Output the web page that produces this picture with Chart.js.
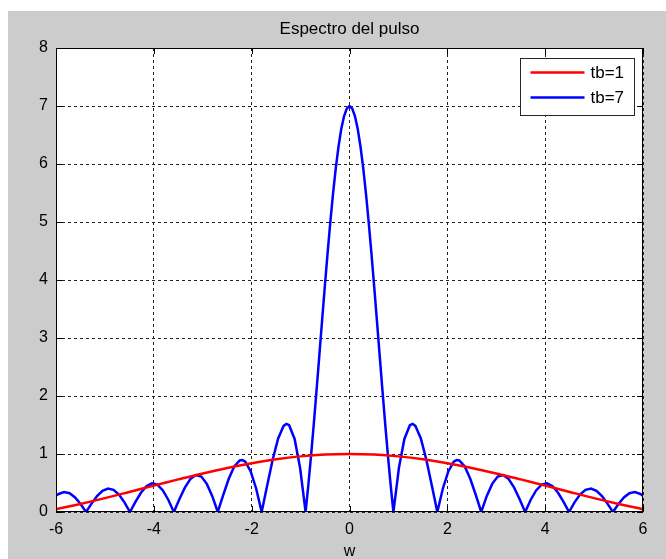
<!DOCTYPE html>
<html>
<head>
<meta charset="utf-8">
<title>Espectro del pulso</title>
<script src="https://cdn.jsdelivr.net/npm/chart.js@4.4.1/dist/chart.umd.min.js"></script>
<style>
  html, body { margin: 0; padding: 0; background: #ffffff; }
  canvas { display: block; }
</style>
</head>
<body>
<canvas id="espectro" width="666" height="559"></canvas>
<script>
// tb = 1 : |X(w)|
const redW = [-6, -5.5, -5, -4.5, -4, -3.5, -3, -2.5, -2, -1.5, -1, -0.5, 0,
              0.5, 1, 1.5, 2, 2.5, 3, 3.5, 4, 4.5, 5, 5.5, 6];
const redMag = [0.047, 0.139, 0.239, 0.346, 0.455, 0.562, 0.665, 0.759, 0.841, 0.909, 0.959, 0.990, 1.0,
                0.990, 0.959, 0.909, 0.841, 0.759, 0.665, 0.562, 0.455, 0.346, 0.239, 0.139, 0.047];

// tb = 7 : |X(w)|
const blueW = [
  -6.0, -5.9466, -5.8344, -5.7222, -5.61, -5.4978, -5.3856,
  -5.2734, -5.1612, -5.049, -4.9368, -4.8246, -4.7124, -4.6002, -4.488,
  -4.3758, -4.2636, -4.1514, -4.0392, -3.927, -3.8148, -3.7026, -3.5904,
  -3.4782, -3.366, -3.2538, -3.1416, -3.0294, -2.9172, -2.805, -2.6928,
  -2.5806, -2.4684, -2.3562, -2.244, -2.19, -2.1318, -2.0196, -1.9074, -1.7952,
  -1.683, -1.5708, -1.4586, -1.3464, -1.29, -1.2342, -1.122, -1.0098, -0.8976,
  -0.8415, -0.7854, -0.7293, -0.6732, -0.6171, -0.561, -0.5049, -0.4488,
  -0.3927, -0.3366, -0.2805, -0.2244, -0.1683, -0.1122, -0.0561, 0,
  0.0561, 0.1122, 0.1683, 0.2244, 0.2805, 0.3366, 0.3927, 0.4488,
  0.5049, 0.561, 0.6171, 0.6732, 0.7293, 0.7854, 0.8415, 0.8976,
  1.0098, 1.122, 1.2342, 1.29, 1.3464, 1.4586, 1.5708, 1.683, 1.7952,
  1.9074, 2.0196, 2.1318, 2.19, 2.244, 2.3562, 2.4684, 2.5806, 2.6928,
  2.805, 2.9172, 3.0294, 3.1416, 3.2538, 3.366, 3.4782, 3.5904,
  3.7026, 3.8148, 3.927, 4.0392, 4.1514, 4.2636, 4.3758, 4.488,
  4.6002, 4.7124, 4.8246, 4.9368, 5.049, 5.1612, 5.2734, 5.3856,
  5.4978, 5.61, 5.7222, 5.8344, 5.9466, 6.0
];
const blueMag = [
  0.279, 0.311, 0.343, 0.323, 0.252, 0.139, 0,
  0.145, 0.274, 0.366, 0.405, 0.383, 0.300, 0.166, 0,
  0.175, 0.332, 0.445, 0.495, 0.471, 0.371, 0.207, 0,
  0.220, 0.420, 0.568, 0.637, 0.610, 0.485, 0.273, 0,
  0.297, 0.573, 0.784, 0.891, 0.897, 0.867, 0.700, 0.401, 0,
  0.455, 0.900, 1.267, 1.485, 1.520, 1.497, 1.260, 0.758, 0,
  0.464, 0.975, 1.524, 2.101, 2.695, 3.294, 3.885, 4.456,
  4.995, 5.490, 5.929, 6.302, 6.603, 6.822, 6.955, 7.0,
  6.955, 6.822, 6.603, 6.302, 5.929, 5.490, 4.995, 4.456,
  3.885, 3.294, 2.695, 2.101, 1.524, 0.975, 0.464, 0,
  0.758, 1.260, 1.497, 1.520, 1.485, 1.267, 0.900, 0.455, 0,
  0.401, 0.700, 0.867, 0.897, 0.891, 0.784, 0.573, 0.297, 0,
  0.273, 0.485, 0.610, 0.637, 0.568, 0.420, 0.220, 0,
  0.207, 0.371, 0.471, 0.495, 0.445, 0.332, 0.175, 0,
  0.166, 0.300, 0.383, 0.405, 0.366, 0.274, 0.145, 0,
  0.139, 0.252, 0.323, 0.343, 0.311, 0.279
];

const xTicks = [-6, -4, -2, 0, 2, 4, 6];
const yTicks = [0, 1, 2, 3, 4, 5, 6, 7, 8];

const titulo = "Espectro del pulso";
const etiquetaX = "w";

const FUENTE = "'Liberation Sans', Arial, sans-serif";

function toPoints(xs, ys) {
    return xs.map((x, i) => ({ x: x, y: ys[i] }));
}

// fondo gris de la figura, titulo, caja de ejes, marcas interiores y leyenda
const figuraPlugin = {
    id: "figura",
    beforeDraw(chart) {
        const ctx = chart.ctx;
        const a = chart.chartArea;
        ctx.save();
        ctx.fillStyle = "#ffffff";
        ctx.fillRect(0, 0, chart.width, chart.height);
        ctx.fillStyle = "#cccccc";
        ctx.fillRect(8, 11, chart.width - 8, chart.height - 11);
        ctx.fillStyle = "#ffffff";
        ctx.fillRect(a.left, a.top, a.right - a.left, a.bottom - a.top);
        ctx.restore();
    },
    afterDraw(chart) {
        const ctx = chart.ctx;
        const a = chart.chartArea;
        const xs = chart.scales.x;
        const ys = chart.scales.y;
        const cx = (a.left + a.right) / 2;
        ctx.save();

        // titulo y etiqueta del eje x
        ctx.fillStyle = "#000000";
        ctx.textAlign = "center";
        ctx.textBaseline = "middle";
        ctx.font = "17px " + FUENTE;
        ctx.fillText(titulo, cx, 29);
        ctx.font = "16px " + FUENTE;
        ctx.fillText(etiquetaX, cx, a.bottom + 40);

        // caja
        ctx.strokeStyle = "#000000";
        ctx.lineWidth = 1;
        ctx.setLineDash([]);
        ctx.strokeRect(Math.round(a.left) + 0.5, Math.round(a.top) + 0.5,
                       Math.round(a.right - a.left) - 1, Math.round(a.bottom - a.top) - 1);

        // marcas hacia dentro en los cuatro lados
        const len = 6;
        ctx.beginPath();
        xTicks.forEach(v => {
            const px = Math.round(xs.getPixelForValue(v)) + 0.5;
            ctx.moveTo(px, a.bottom); ctx.lineTo(px, a.bottom - len);
            ctx.moveTo(px, a.top); ctx.lineTo(px, a.top + len);
        });
        yTicks.forEach(v => {
            const py = Math.round(ys.getPixelForValue(v)) + 0.5;
            ctx.moveTo(a.left, py); ctx.lineTo(a.left + len, py);
            ctx.moveTo(a.right, py); ctx.lineTo(a.right - len, py);
        });
        ctx.stroke();

        // leyenda
        const bx = Math.round(a.right) - 122.5;
        const by = Math.round(a.top) + 10.5;
        const bw = 114, bh = 57;
        ctx.fillStyle = "#ffffff";
        ctx.fillRect(bx, by, bw, bh);
        ctx.strokeStyle = "#262626";
        ctx.strokeRect(bx, by, bw, bh);
        ctx.font = "17px " + FUENTE;
        ctx.textAlign = "left";
        ctx.textBaseline = "middle";
        chart.data.datasets.forEach((ds, i) => {
            const y = by + 14 + i * 25;
            ctx.strokeStyle = ds.borderColor;
            ctx.lineWidth = 2.5;
            ctx.beginPath();
            ctx.moveTo(bx + 10, y);
            ctx.lineTo(bx + 64, y);
            ctx.stroke();
            ctx.fillStyle = "#000000";
            ctx.fillText(ds.label, bx + 70, y + 1);
        });
        ctx.restore();
    }
};

new Chart(document.getElementById("espectro"), {
    type: "line",
    data: {
        datasets: [
            {
                label: "tb=1",
                data: toPoints(redW, redMag),
                borderColor: "#ff0000",
                borderWidth: 2.5,
                pointRadius: 0,
                tension: 0.4,
                fill: false
            },
            {
                label: "tb=7",
                data: toPoints(blueW, blueMag),
                borderColor: "#0000ff",
                borderWidth: 2.5,
                pointRadius: 0,
                tension: 0,
                fill: false
            }
        ]
    },
    options: {
        responsive: false,
        animation: false,
        events: [],
        layout: { padding: { top: 48, right: 23, bottom: 0, left: 0 } },
        plugins: {
            legend: { display: false },
            title: { display: false },
            tooltip: { enabled: false }
        },
        scales: {
            x: {
                type: "linear",
                min: -6,
                max: 6,
                afterBuildTicks: scale => { scale.ticks = xTicks.map(v => ({ value: v })); },
                afterFit: scale => { scale.height = 47; },
                ticks: {
                    color: "#000000",
                    font: { family: FUENTE, size: 16 },
                    padding: 8,
                    maxRotation: 0
                },
                grid: { color: "#222222", lineWidth: 1, drawTicks: false },
                border: { display: false, dash: [3, 3] }
            },
            y: {
                type: "linear",
                min: 0,
                max: 8,
                afterBuildTicks: scale => { scale.ticks = yTicks.map(v => ({ value: v })); },
                afterFit: scale => { scale.width = 56; },
                ticks: {
                    color: "#000000",
                    font: { family: FUENTE, size: 16 },
                    padding: 8
                },
                grid: { color: "#222222", lineWidth: 1, drawTicks: false },
                border: { display: false, dash: [3, 3] }
            }
        }
    },
    plugins: [figuraPlugin]
});
</script>
</body>
</html>
